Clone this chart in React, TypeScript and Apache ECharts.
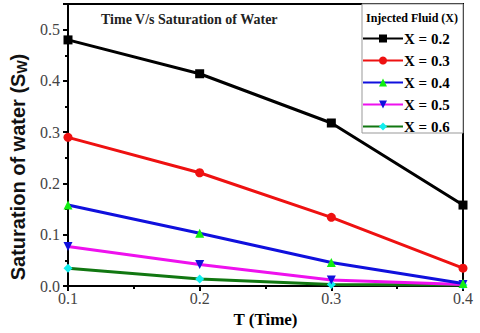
import React, { useEffect, useRef } from "react";
import * as echarts from "echarts";

const times = [0.1, 0.2, 0.3, 0.4];
const seriesNames = ["X = 0.2", "X = 0.3", "X = 0.4", "X = 0.5", "X = 0.6"];
const s02 = [0.48, 0.414, 0.318, 0.158];
const s03 = [0.29, 0.221, 0.134, 0.035];
const s04 = [0.158, 0.103, 0.046, 0.005];
const s05 = [0.077, 0.042, 0.012, 0.003];
const s06 = [0.035, 0.014, 0.003, 0.002];
const lineColors = ["#000000", "#ee1111", "#1010dd", "#ee11ee", "#117711"];
const markerColors = ["#000000", "#ee1111", "#11ee11", "#1010dd", "#11eeee"];
const symbols = ["rect", "circle", "triangle", "triangle", "diamond"];
const symbolRotations = [0, 0, 0, 180, 0];

const serif = "Liberation Serif";
const sans = "Liberation Sans";

export default function App() {
  const ref = useRef<HTMLDivElement>(null);
  useEffect(() => {
    if (!ref.current) return;
    const chart = echarts.init(ref.current, null, { renderer: "svg" });
    const all = [s02, s03, s04, s05, s06];
    chart.setOption({
      animation: false,
      backgroundColor: "#ffffff",
      grid: { left: 68, right: 17, top: 4, bottom: 44, show: true, borderColor: "#000", borderWidth: 2, backgroundColor: "transparent" },
      xAxis: {
        type: "value",
        min: 0.1,
        max: 0.4,
        interval: 0.1,
        name: "T (Time)",
        nameLocation: "middle",
        nameGap: 23,
        nameTextStyle: { fontFamily: serif, fontWeight: "bold", fontSize: 17, color: "#000" },
        axisLine: { lineStyle: { color: "#000", width: 2 } },
        axisTick: { show: true, length: 5, lineStyle: { color: "#000", width: 2 } },
        minorTick: { show: true, splitNumber: 2, length: 3, lineStyle: { color: "#000", width: 2 } },
        splitLine: { show: false },
        axisLabel: { fontFamily: serif, fontSize: 16, color: "#444", margin: 4, formatter: (v: number) => v.toFixed(1) },
      },
      yAxis: {
        type: "value",
        min: 0,
        max: 0.55,
        interval: 0.1,
        axisLine: { lineStyle: { color: "#000", width: 2 } },
        axisTick: { show: true, length: 5, lineStyle: { color: "#000", width: 2 } },
        minorTick: { show: true, splitNumber: 2, length: 3, lineStyle: { color: "#000", width: 2 } },
        splitLine: { show: false },
        axisLabel: {
          fontFamily: serif, fontSize: 16, color: "#444", margin: 8, showMaxLabel: false,
          formatter: (v: number) => (Math.abs(v * 10 - Math.round(v * 10)) < 1e-6 ? v.toFixed(1) : ""),
        },
      },
      title: {
        text: "Time V/s Saturation of Water",
        left: 96,
        top: 7,
        textStyle: { fontFamily: serif, fontWeight: "bold", fontSize: 14, color: "#222" },
      },
      graphic: [
        {
          type: "text",
          x: 18,
          y: 167,
          rotation: Math.PI / 2,
          style: {
            text: "Saturation of water (S{sub|W})",
            fontFamily: sans, fontWeight: "bold", fontSize: 20, fill: "#111",
            align: "center", verticalAlign: "middle",
            rich: { sub: { fontFamily: sans, fontWeight: "bold", fontSize: 14, fill: "#111", verticalAlign: "bottom", padding: [8, 0, 0, 0] } },
          },
        },
        {
          type: "rect",
          shape: { x: 362, y: 4, width: 101, height: 129 },
          style: { fill: "#fff", stroke: "#999", lineWidth: 1 },
          z: 10,
        },
        {
          type: "text",
          x: 412,
          y: 18,
          style: { text: "Injected Fluid (X)", fontFamily: serif, fontWeight: "bold", fontSize: 12, fill: "#000", align: "center", verticalAlign: "middle" },
          z: 11,
        },
      ],
      legend: {
        orient: "vertical",
        left: 362,
        top: 31,
        itemWidth: 40,
        itemHeight: 10,
        itemGap: 7,
        padding: 0,
        z: 12,
        textStyle: { fontFamily: serif, fontWeight: "bold", fontSize: 15, color: "#000", padding: [0, 0, 0, -4] },
        data: seriesNames,
      },
      series: all.map((vals, i) => ({
        name: seriesNames[i],
        type: "line",
        data: times.map((t, j) => [t, vals[j]]),
        symbol: symbols[i],
        symbolSize: 9,
        symbolRotate: symbolRotations[i],
        showAllSymbol: true,
        itemStyle: { color: markerColors[i] },
        lineStyle: { color: lineColors[i], width: 3 },
        z: 2 + (4 - i),
      })),
    });
    return () => chart.dispose();
  }, []);
  return <div ref={ref} style={{ position: "fixed", left: 0, top: 0, width: 480, height: 333 }} />;
}
